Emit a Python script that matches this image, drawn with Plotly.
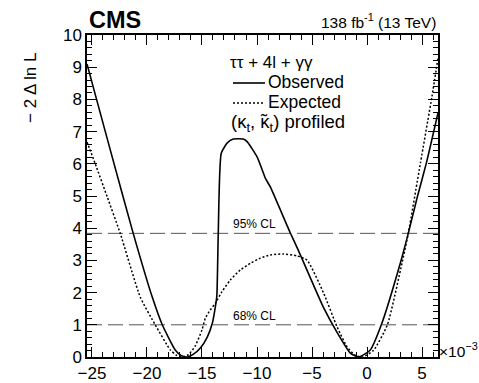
import plotly.graph_objects as go

# Observed -2 Delta lnL vs parameter (x in units of 1e-3)
obs_x = [-25.45, -24.5, -23.15, -21.25, -19.52, -18.61, -17.43, -16.9, -16.36, -15.8,
         -15.15, -14.52, -14.06, -13.79, -13.65, -13.52, -13.25, -12.7, -12.15, -11.25,
         -10.88, -9.97, -9.25, -8.79, -6.97, -6.25, -3.97, -2.7, -1.52, -0.75,
         0.3, 1.3, 3.03, 3.75, 4.57, 5.39, 6.45]
obs_y = [9.1, 7.9, 6.2, 3.84, 1.86, 1.0, 0.22, 0.05, 0.0, 0.08,
         0.28, 0.62, 1.05, 1.55, 1.9, 3.85, 6.33, 6.65, 6.77, 6.77,
         6.68, 6.2, 5.56, 5.28, 3.85, 3.32, 1.55, 0.75, 0.12, 0.0,
         0.22, 1.0, 2.92, 3.84, 4.97, 6.02, 7.58]

# Expected
exp_x = [-25.45, -24.7, -23.61, -22.43, -20.61, -19.25, -17.88, -17.3, -16.8, -16.2,
         -15.6, -15.0, -14.7, -14.25, -13.79, -13.18, -12.43, -11.52, -10.61, -9.7,
         -8.79, -7.58, -6.36, -5.45, -3.94, -2.73, -1.82, -1.1, -0.43, 0.58,
         1.85, 3.18, 3.75, 4.85, 5.9, 6.45]
exp_y = [6.68, 6.0, 4.97, 3.84, 1.86, 1.0, 0.22, 0.05, 0.0, 0.08,
         0.35, 0.84, 1.2, 1.46, 1.67, 2.03, 2.39, 2.7, 2.91, 3.07,
         3.17, 3.2, 3.14, 3.01, 1.98, 0.94, 0.32, 0.06, 0.0, 0.2,
         1.0, 2.92, 3.84, 6.02, 8.09, 9.28]

cl_levels = [1.0, 3.84]
cl_labels = ["68% CL", "95% CL"]
cl_label_x = -10.25

FONT = "Liberation Sans"

fig = go.Figure()
fig.add_trace(go.Scatter(x=obs_x, y=obs_y, mode="lines", name="Observed",
                         line=dict(color="black", width=1.6, shape="spline", smoothing=0.5),
                         showlegend=False))
fig.add_trace(go.Scatter(x=exp_x, y=exp_y, mode="lines", name="Expected",
                         line=dict(color="black", width=1.5, dash="2px,2px", shape="spline", smoothing=0.5),
                         showlegend=False))

for lvl, lab in zip(cl_levels, cl_labels):
    fig.add_shape(type="line", xref="paper", x0=0, x1=1, yref="y", y0=lvl, y1=lvl,
                  line=dict(color="#555555", width=1, dash="15px,6px"), layer="below")
    fig.add_annotation(x=cl_label_x, y=lvl, xref="x", yref="y", text=lab, showarrow=False,
                       yanchor="bottom", yshift=1, borderpad=0,
                       font=dict(family=FONT, size=12, color="black"))

def px2x(p):
    return (p - 87) / 351.0

def py2y(p):
    return (357 - p) / 322.0

ann = []
ann.append(dict(x=0, y=py2y(20), xref="paper", yref="paper", text="<b>CMS</b>", showarrow=False,
                xanchor="left", yanchor="middle", font=dict(family=FONT, size=23.5, color="black")))
ann.append(dict(x=1, y=py2y(21), xref="paper", yref="paper", text="138 fb<sup>-1</sup> (13 TeV)",
                showarrow=False, xanchor="right", yanchor="middle",
                font=dict(family=FONT, size=15.5, color="black")))
ann.append(dict(x=px2x(438), y=py2y(350), xref="paper", yref="paper", text="×10<sup>−3</sup>",
                showarrow=False, xanchor="left", yanchor="middle", borderpad=0,
                font=dict(family=FONT, size=15.5, color="black")))
ann.append(dict(x=px2x(30), y=py2y(88), xref="paper", yref="paper", text="− 2 Δ ln L",
                showarrow=False, textangle=-90, xanchor="center", yanchor="middle",
                font=dict(family=FONT, size=17, color="black")))
ann.append(dict(x=px2x(229), y=py2y(62), xref="paper", yref="paper", text="ττ + 4l + γγ",
                showarrow=False, xanchor="left", yanchor="middle", borderpad=0,
                font=dict(family=FONT, size=17, color="black")))
ann.append(dict(x=px2x(267), y=py2y(82), xref="paper", yref="paper", text="Observed",
                showarrow=False, xanchor="left", yanchor="middle", borderpad=0,
                font=dict(family=FONT, size=17.5, color="black")))
ann.append(dict(x=px2x(267), y=py2y(102), xref="paper", yref="paper", text="Expected",
                showarrow=False, xanchor="left", yanchor="middle", borderpad=0,
                font=dict(family=FONT, size=17.5, color="black")))
ann.append(dict(x=px2x(230), y=py2y(123), xref="paper", yref="paper",
                text="(κ<sub>t</sub>, κ<sub>t</sub>) profiled",
                showarrow=False, xanchor="left", yanchor="middle", borderpad=0,
                font=dict(family=FONT, size=18.5, color="black")))
# tilde accent over the second kappa
ann.append(dict(x=px2x(264), y=py2y(121), xref="paper", yref="paper", text="\u02dc",
                showarrow=False, xanchor="center", yanchor="middle", borderpad=0,
                font=dict(family=FONT, size=18.5, color="black")))
for a in ann:
    fig.add_annotation(**a)

# legend samples
fig.add_shape(type="line", xref="paper", yref="paper", x0=px2x(233), x1=px2x(265),
              y0=py2y(83), y1=py2y(83), line=dict(color="black", width=1.6))
fig.add_shape(type="line", xref="paper", yref="paper", x0=px2x(233), x1=px2x(265),
              y0=py2y(103), y1=py2y(103), line=dict(color="black", width=1.5, dash="2px,2px"))

axis_common = dict(showline=True, linecolor="black", linewidth=1.5, mirror="allticks",
                   ticks="inside", ticklen=10, tickwidth=1, tickcolor="black",
                   showgrid=False, zeroline=False, automargin=False,
                   tickfont=dict(family=FONT, size=17, color="black"))

fig.update_xaxes(range=[-25.45, 6.45], tickmode="linear", tick0=0, dtick=5,
                 minor=dict(dtick=1, ticks="inside", ticklen=5, tickcolor="black", showgrid=False),
                 **axis_common)
fig.update_yaxes(range=[0, 10], tickmode="linear", tick0=0, dtick=1,
                 minor=dict(dtick=0.2, ticks="inside", ticklen=5, tickcolor="black", showgrid=False),
                 **axis_common)

fig.update_layout(width=479, height=383, margin=dict(l=87, r=41, t=35, b=26),
                  paper_bgcolor="white", plot_bgcolor="white",
                  font=dict(family=FONT, color="black"), showlegend=False)

fig.write_html("out.html")
